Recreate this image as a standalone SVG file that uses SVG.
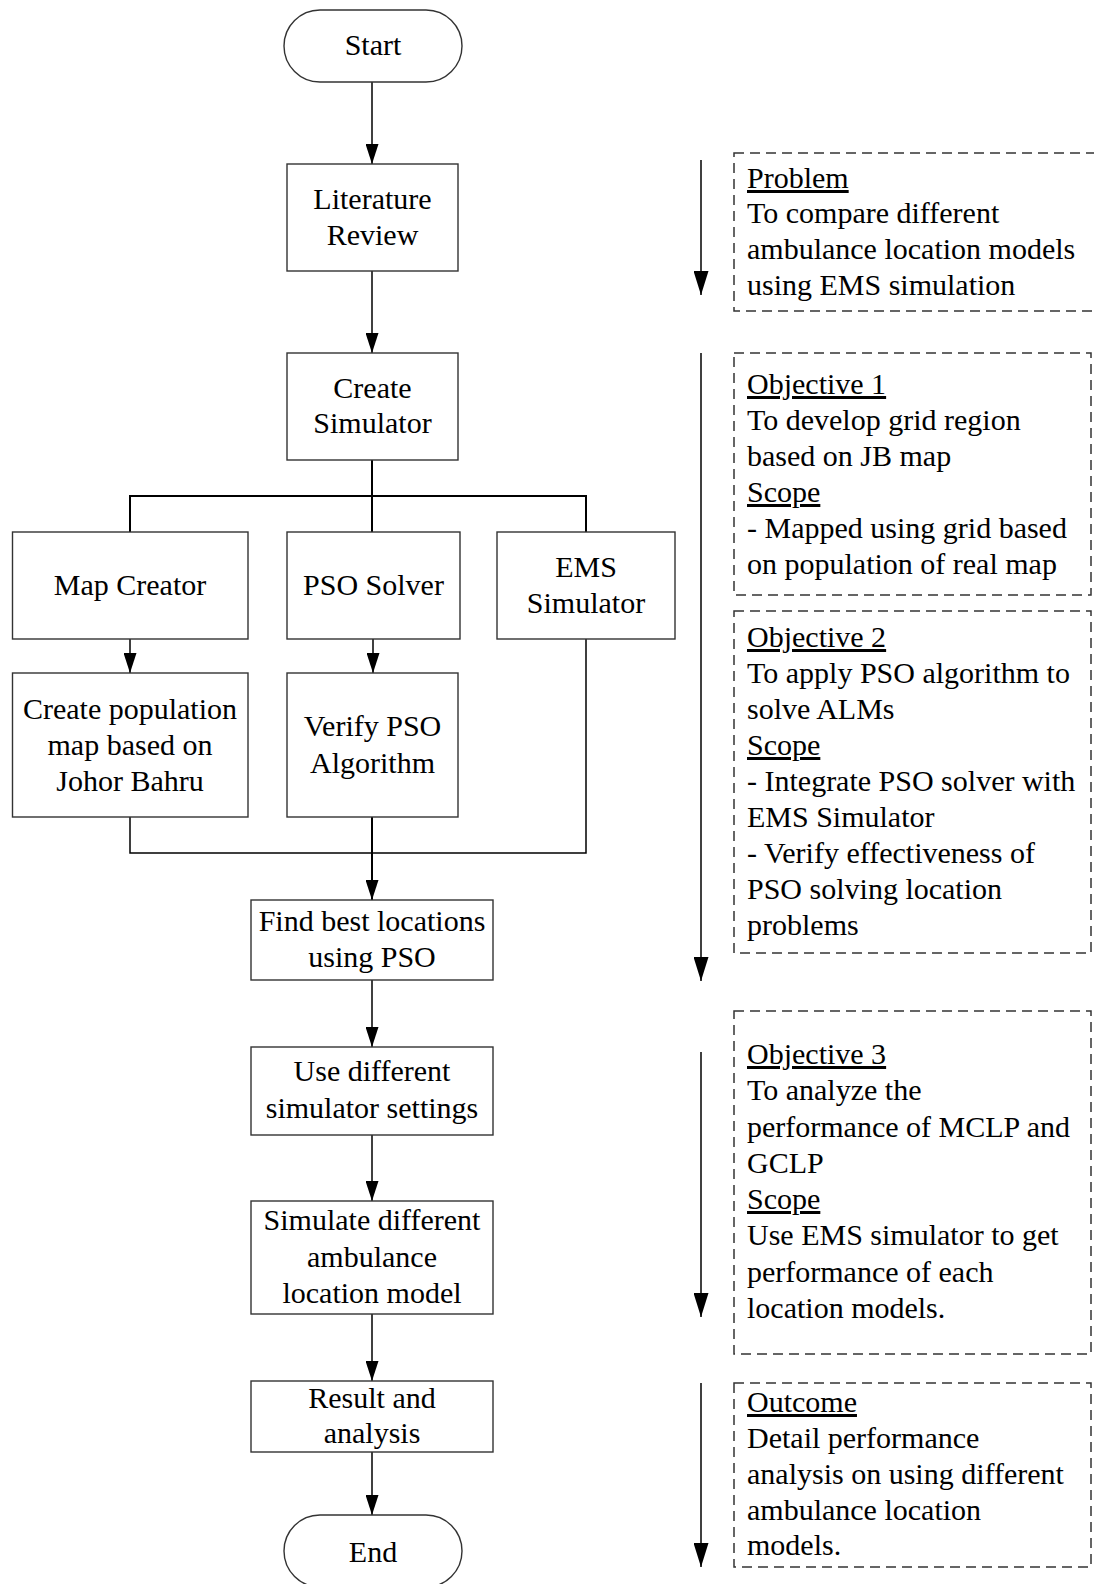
<svg xmlns="http://www.w3.org/2000/svg" width="1094" height="1584" viewBox="0 0 1094 1584">
<defs>
<marker id="ah" markerUnits="userSpaceOnUse" markerWidth="20" markerHeight="13" refX="20" refY="6.5" orient="auto">
<path d="M0,0 L20,6.5 L0,13 z" fill="#000"/>
</marker>
<marker id="ahb" markerUnits="userSpaceOnUse" markerWidth="24" markerHeight="15" refX="24" refY="7.5" orient="auto">
<path d="M0,0 L24,7.5 L0,15 z" fill="#000"/>
</marker>
</defs>
<style>
.box{fill:#fff;stroke:#333;stroke-width:1.4}
.dash{fill:none;stroke:#333;stroke-width:1.5;stroke-dasharray:10 6}
.t{font-family:"Liberation Serif","Times New Roman",serif;font-size:30px;fill:#000}
.c{text-anchor:middle}
.u{text-decoration:underline}
.ln{fill:none;stroke:#000;stroke-width:1.5}
.lt{fill:none;stroke:#000;stroke-width:2}
</style>
<rect width="1094" height="1584" fill="#fff"/>

<g id="connectors">
<line class="ln" x1="372" y1="82" x2="372" y2="164" marker-end="url(#ah)"/>
<line class="ln" x1="372" y1="271" x2="372" y2="353" marker-end="url(#ah)"/>
<line class="lt" x1="372" y1="460" x2="372" y2="532"/>
<polyline class="lt" points="130,532 130,496 586,496 586,532"/>
<line class="ln" x1="130" y1="639" x2="130" y2="673" marker-end="url(#ah)"/>
<line class="ln" x1="373" y1="639" x2="373" y2="673" marker-end="url(#ah)"/>
<polyline class="ln" points="130,817 130,853 586,853 586,639"/>
<line class="lt" x1="372" y1="817" x2="372" y2="900" marker-end="url(#ah)"/>
<line class="ln" x1="372" y1="980" x2="372" y2="1047" marker-end="url(#ah)"/>
<line class="ln" x1="372" y1="1135" x2="372" y2="1201" marker-end="url(#ah)"/>
<line class="ln" x1="372" y1="1314" x2="372" y2="1381" marker-end="url(#ah)"/>
<line class="ln" x1="372" y1="1452" x2="372" y2="1515" marker-end="url(#ah)"/>
<line class="ln" x1="701" y1="160" x2="701" y2="295" marker-end="url(#ahb)"/>
<line class="ln" x1="701" y1="353" x2="701" y2="981" marker-end="url(#ahb)"/>
<line class="ln" x1="701" y1="1052" x2="701" y2="1317" marker-end="url(#ahb)"/>
<line class="ln" x1="701" y1="1383" x2="701" y2="1567" marker-end="url(#ahb)"/>
</g>

<g id="start">
<rect class="box" x="284" y="10" width="178" height="72" rx="36" ry="36"/>
<text class="t c" x="373" y="55">Start</text>
</g>
<g id="literature-review">
<rect class="box" x="287" y="164" width="171" height="107"/>
<text class="t c" x="372.5" y="209">Literature</text>
<text class="t c" x="372.5" y="245">Review</text>
</g>
<g id="create-simulator">
<rect class="box" x="287" y="353" width="171" height="107"/>
<text class="t c" x="372.5" y="398">Create</text>
<text class="t c" x="372.5" y="433">Simulator</text>
</g>
<g id="map-creator">
<rect class="box" x="12.5" y="532" width="235.5" height="107"/>
<text class="t c" x="130" y="595">Map Creator</text>
</g>
<g id="pso-solver">
<rect class="box" x="287" y="532" width="173" height="107"/>
<text class="t c" x="373.5" y="595">PSO Solver</text>
</g>
<g id="ems-simulator">
<rect class="box" x="497" y="532" width="178" height="107"/>
<text class="t c" x="586" y="577">EMS</text>
<text class="t c" x="586" y="613">Simulator</text>
</g>
<g id="create-population">
<rect class="box" x="12.5" y="673" width="235.5" height="144"/>
<text class="t c" x="130" y="719">Create population</text>
<text class="t c" x="130" y="755">map based on</text>
<text class="t c" x="130" y="791">Johor Bahru</text>
</g>
<g id="verify-pso">
<rect class="box" x="287" y="673" width="171" height="144"/>
<text class="t c" x="372.5" y="736">Verify PSO</text>
<text class="t c" x="372.5" y="773">Algorithm</text>
</g>
<g id="find-best">
<rect class="box" x="251" y="900" width="242" height="80"/>
<text class="t c" x="372" y="931">Find best locations</text>
<text class="t c" x="372" y="967">using PSO</text>
</g>
<g id="use-different">
<rect class="box" x="251" y="1047" width="242" height="88"/>
<text class="t c" x="372" y="1081">Use different</text>
<text class="t c" x="372" y="1118">simulator settings</text>
</g>
<g id="simulate-different">
<rect class="box" x="251" y="1201" width="242" height="113"/>
<text class="t c" x="372" y="1230">Simulate different</text>
<text class="t c" x="372" y="1267">ambulance</text>
<text class="t c" x="372" y="1303">location model</text>
</g>
<g id="result-analysis">
<rect class="box" x="251" y="1381" width="242" height="71"/>
<text class="t c" x="372" y="1408">Result and</text>
<text class="t c" x="372" y="1443">analysis</text>
</g>
<g id="end">
<rect class="box" x="284" y="1515" width="178" height="72" rx="36" ry="36"/>
<text class="t c" x="373" y="1562">End</text>
</g>

<g id="problem">
<rect class="dash" x="734" y="153" width="372" height="158"/>
<text class="t u" x="747" y="188">Problem</text>
<text class="t" x="747" y="223">To compare different</text>
<text class="t" x="747" y="259">ambulance location models</text>
<text class="t" x="747" y="295">using EMS simulation</text>
</g>
<g id="objective-1">
<rect class="dash" x="734" y="353" width="357" height="242"/>
<text class="t u" x="747" y="394">Objective 1</text>
<text class="t" x="747" y="430">To develop grid region</text>
<text class="t" x="747" y="466">based on JB map</text>
<text class="t u" x="747" y="502">Scope</text>
<text class="t" x="747" y="538">- Mapped using grid based</text>
<text class="t" x="747" y="574">on population of real map</text>
</g>
<g id="objective-2">
<rect class="dash" x="734" y="611" width="357" height="342"/>
<text class="t u" x="747" y="647">Objective 2</text>
<text class="t" x="747" y="683">To apply PSO algorithm to</text>
<text class="t" x="747" y="719">solve ALMs</text>
<text class="t u" x="747" y="755">Scope</text>
<text class="t" x="747" y="791">- Integrate PSO solver with</text>
<text class="t" x="747" y="827">EMS Simulator</text>
<text class="t" x="747" y="863">- Verify effectiveness of</text>
<text class="t" x="747" y="899">PSO solving location</text>
<text class="t" x="747" y="935">problems</text>
</g>
<g id="objective-3">
<rect class="dash" x="734" y="1011" width="357" height="343"/>
<text class="t u" x="747" y="1064">Objective 3</text>
<text class="t" x="747" y="1100">To analyze the</text>
<text class="t" x="747" y="1137">performance of MCLP and</text>
<text class="t" x="747" y="1173">GCLP</text>
<text class="t u" x="747" y="1209">Scope</text>
<text class="t" x="747" y="1245">Use EMS simulator to get</text>
<text class="t" x="747" y="1282">performance of each</text>
<text class="t" x="747" y="1318">location models.</text>
</g>
<g id="outcome">
<rect class="dash" x="734" y="1383" width="357" height="184"/>
<text class="t u" x="747" y="1412">Outcome</text>
<text class="t" x="747" y="1448">Detail performance</text>
<text class="t" x="747" y="1484">analysis on using different</text>
<text class="t" x="747" y="1520">ambulance location</text>
<text class="t" x="747" y="1555">models.</text>
</g>
</svg>
